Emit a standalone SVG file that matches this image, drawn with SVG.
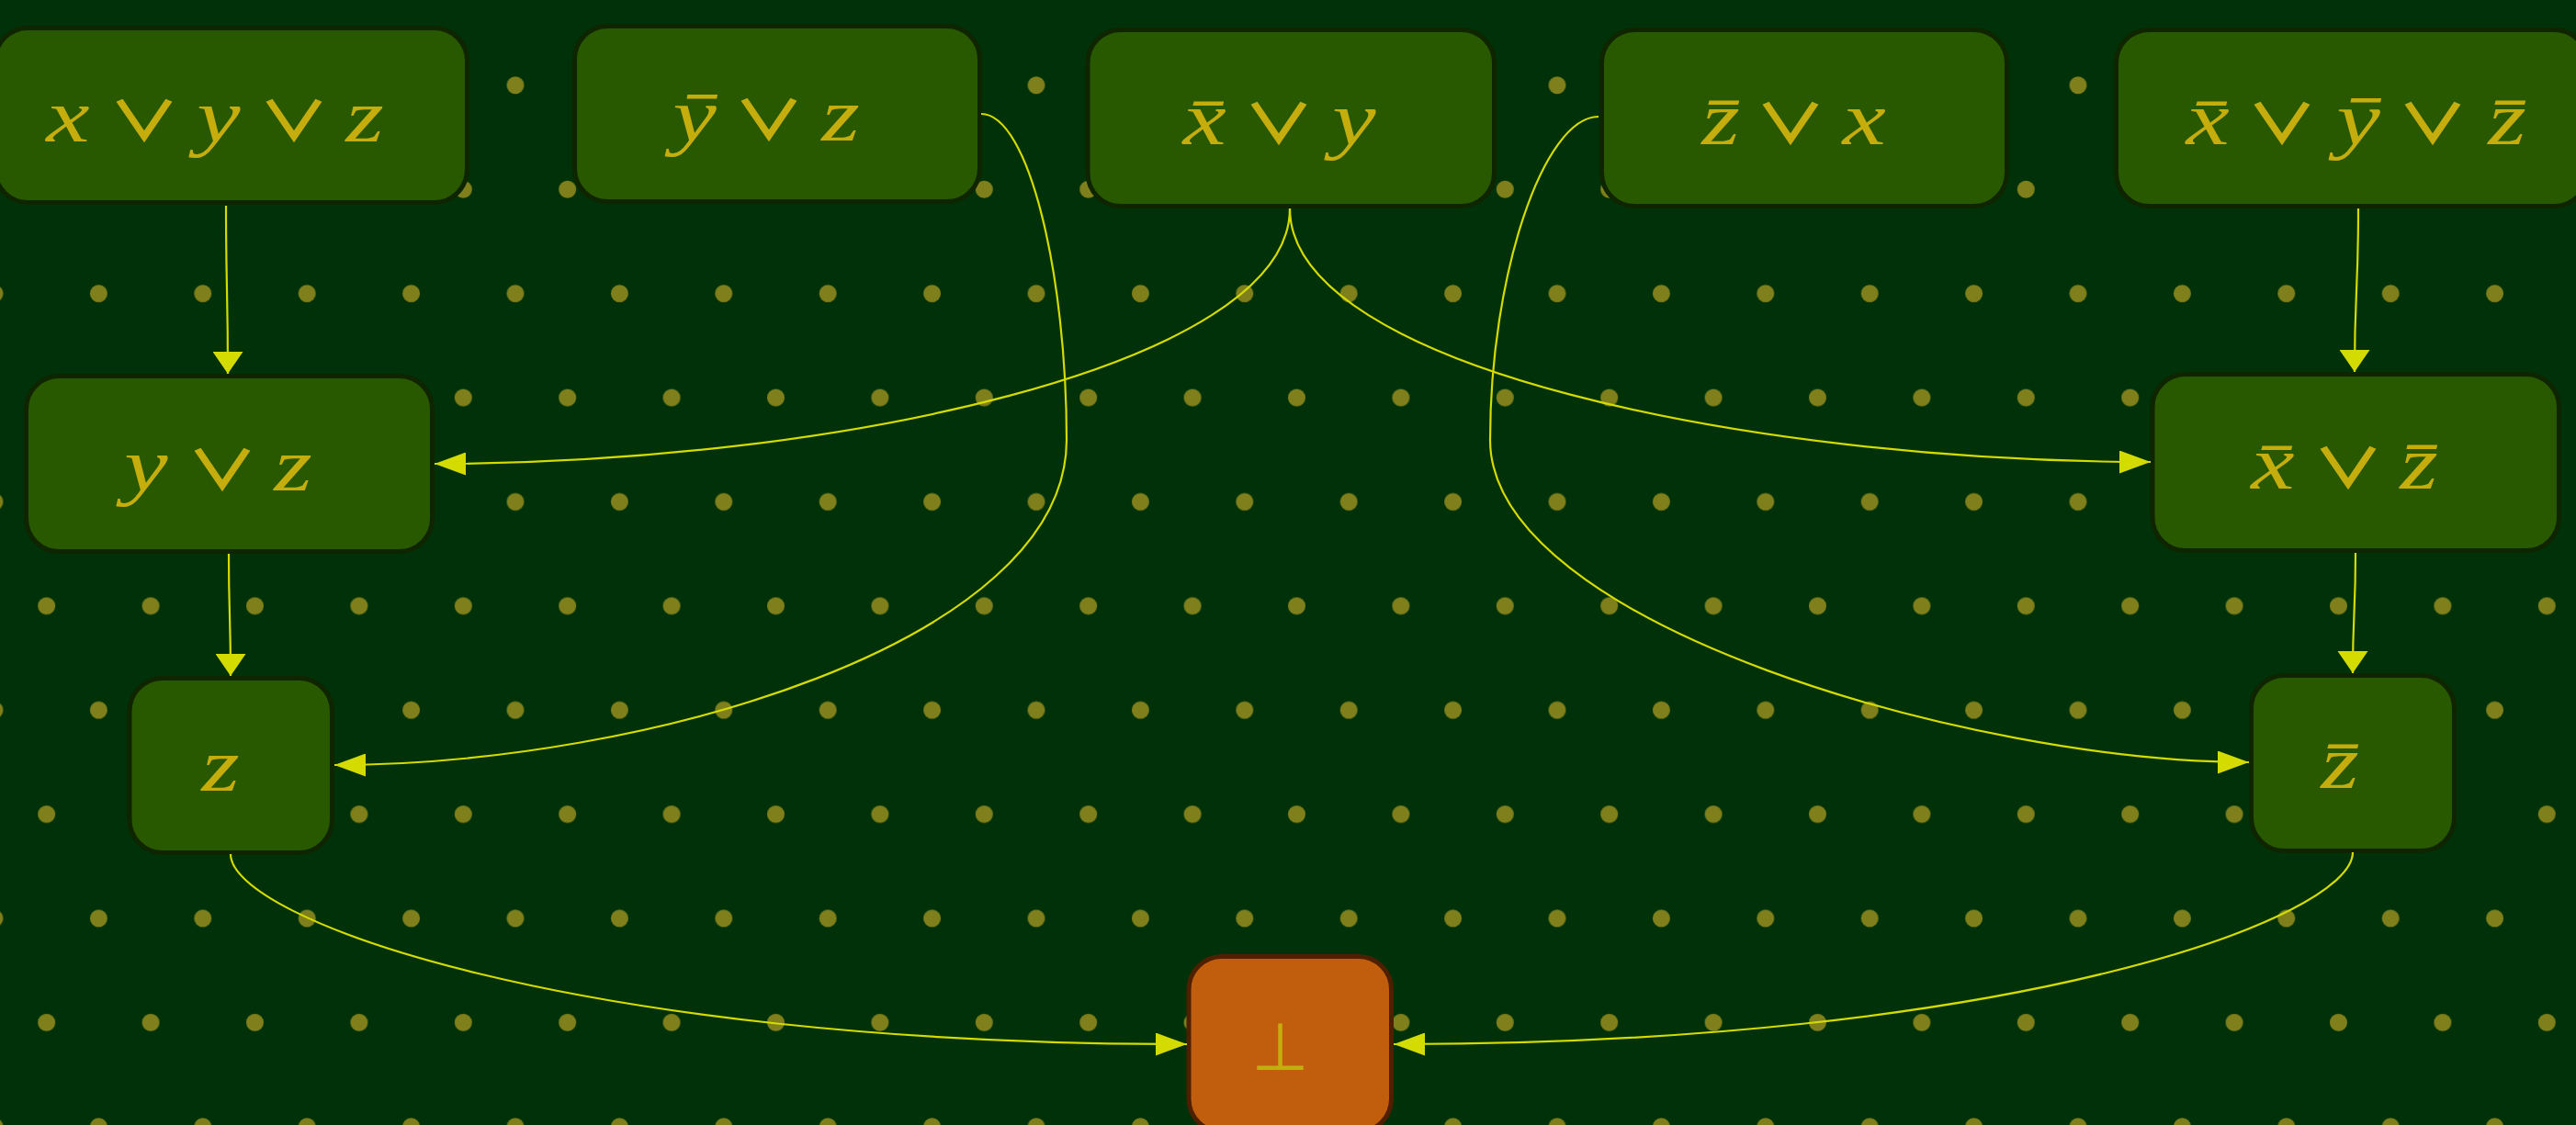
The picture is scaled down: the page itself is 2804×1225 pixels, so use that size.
<svg xmlns="http://www.w3.org/2000/svg" width="2804" height="1225" viewBox="0 0 2804 1225">
<defs>
<style>
.bg{fill:#003108}
.node rect{fill:#285800;stroke:#0f2500;stroke-width:5}
.node.bot rect{fill:#c05e0e;stroke:#4e1f00}
.lbl{font-family:"Liberation Serif","DejaVu Serif",serif;font-style:italic;font-size:82px;fill:#c4ad0c}
.op{font-family:"Noto Sans CJK JP","DejaVu Sans",sans-serif;font-style:normal;font-weight:700;font-size:60px}
.falsum{font-family:"DejaVu Sans",sans-serif;font-size:72px;fill:#c4ad0c;text-anchor:middle}
.lbl tspan{text-anchor:middle}
.edges path{fill:none;stroke:#d4db00;stroke-width:2.2}
.arrowhead{fill:#d4db00}
</style>
<pattern id="dots" x="22.35" y="36.1" width="113.4" height="226.8" patternUnits="userSpaceOnUse">
<circle cx="85.05" cy="56.7" r="9.5" fill="#7f7f1b"/>
<circle cx="28.35" cy="170.1" r="9.5" fill="#7f7f1b"/>
</pattern>
<marker id="arrowH" markerUnits="userSpaceOnUse" markerWidth="34" markerHeight="25" viewBox="0 0 34 25" refX="34" refY="12.5" orient="auto">
<path class="arrowhead" d="M0,0 L34,12.5 L0,25 Z"/>
</marker>
<marker id="arrowV" markerUnits="userSpaceOnUse" markerWidth="24" markerHeight="33" viewBox="0 0 24 33" refX="24" refY="16.5" orient="auto">
<path class="arrowhead" d="M0,0 L24,16.5 L0,33 Z"/>
</marker>
</defs>
<rect class="bg" x="0" y="0" width="2804" height="1225"/>
<rect x="0" y="0" width="2804" height="1225" fill="url(#dots)"/>

<g id="n-xyz" class="node">
<rect x="-5.5" y="30.5" width="514" height="190" rx="36"/>
<text class="lbl" transform="scale(1.3 1)" y="154"><tspan x="67.15">x</tspan> <tspan class="op" x="131.05">∨</tspan> <tspan x="193.35">y</tspan> <tspan class="op" x="256.45">∨</tspan> <tspan x="305.4">z</tspan></text>
</g>
<g id="n-nyz" class="node">
<rect x="625.5" y="28.5" width="441" height="191" rx="36"/>
<text class="lbl" transform="scale(1.3 1)" y="153"><tspan x="591.75">ȳ</tspan> <tspan class="op" x="654.05">∨</tspan> <tspan x="703.8">z</tspan></text>
</g>
<g id="n-nxy" class="node">
<rect x="1184" y="32.5" width="442.5" height="192" rx="36"/>
<text class="lbl" transform="scale(1.3 1)" y="157"><tspan x="1018.75">x̄</tspan> <tspan class="op" x="1081.05">∨</tspan> <tspan x="1133.8">y</tspan></text>
</g>
<g id="n-nzx" class="node">
<rect x="1743.5" y="32.5" width="441" height="192" rx="36"/>
<text class="lbl" transform="scale(1.3 1)" y="157"><tspan x="1451.05">z̄</tspan> <tspan class="op" x="1509.45">∨</tspan> <tspan x="1560.8">x</tspan></text>
</g>
<g id="n-nxnynz" class="node">
<rect x="2303.5" y="32.5" width="513" height="192" rx="36"/>
<text class="lbl" transform="scale(1.3 1)" y="157"><tspan x="1858.75">x̄</tspan> <tspan class="op" x="1921.05">∨</tspan> <tspan x="1984.85">ȳ</tspan> <tspan class="op" x="2047.15">∨</tspan> <tspan x="2099.2">z̄</tspan></text>
</g>
<g id="n-yz" class="node">
<rect x="28.5" y="409.5" width="442" height="191" rx="36"/>
<text class="lbl" transform="scale(1.3 1)" y="534"><tspan x="132.55">y</tspan> <tspan class="op" x="196.45">∨</tspan> <tspan x="245.4">z</tspan></text>
</g>
<g id="n-nxnz" class="node">
<rect x="2343" y="407.5" width="442.5" height="192" rx="36"/>
<text class="lbl" transform="scale(1.3 1)" y="532"><tspan x="1913.35">x̄</tspan> <tspan class="op" x="1976.45">∨</tspan> <tspan x="2025.4">z̄</tspan></text>
</g>
<g id="n-z" class="node">
<rect x="141" y="738.5" width="220.5" height="190" rx="36"/>
<text class="lbl" transform="scale(1.3 1)" y="861"><tspan x="184.6">z</tspan></text>
</g>
<g id="n-nz" class="node">
<rect x="2450.5" y="735.5" width="221" height="191" rx="36"/>
<text class="lbl" transform="scale(1.3 1)" y="858"><tspan x="1959.2">z̄</tspan></text>
</g>
<g id="n-bottom" class="node bot">
<rect x="1294" y="1041.5" width="220.5" height="191" rx="36"/>
<text class="falsum" x="1393.5" y="1165">⊥</text>
</g>

<g id="edges" class="edges">
<path d="M246,224 C246,315 248,315 248,407" marker-end="url(#arrowV)"/>
<path d="M1068,124 C1120,124 1161,300 1161,479 C1161,700 700,833 364,833" marker-end="url(#arrowH)"/>
<path d="M1404,227 C1404,400 900,505 473,505" marker-end="url(#arrowH)"/>
<path d="M1404,227 C1404,400 1908,503 2341,503" marker-end="url(#arrowH)"/>
<path d="M1740,127 C1680,127 1622,300 1622,479 C1622,680 2150,830 2448,830" marker-end="url(#arrowH)"/>
<path d="M2567,227 C2567,317 2563,317 2563,405" marker-end="url(#arrowV)"/>
<path d="M249,603 C249,670 251,670 251,736" marker-end="url(#arrowV)"/>
<path d="M2564,602 C2564,668 2561,668 2561,733" marker-end="url(#arrowV)"/>
<path d="M251,930 C251,1000 620,1137 1292,1137" marker-end="url(#arrowH)"/>
<path d="M2561,928 C2561,1000 2192,1137 1517,1137" marker-end="url(#arrowH)"/>
</g>
</svg>
